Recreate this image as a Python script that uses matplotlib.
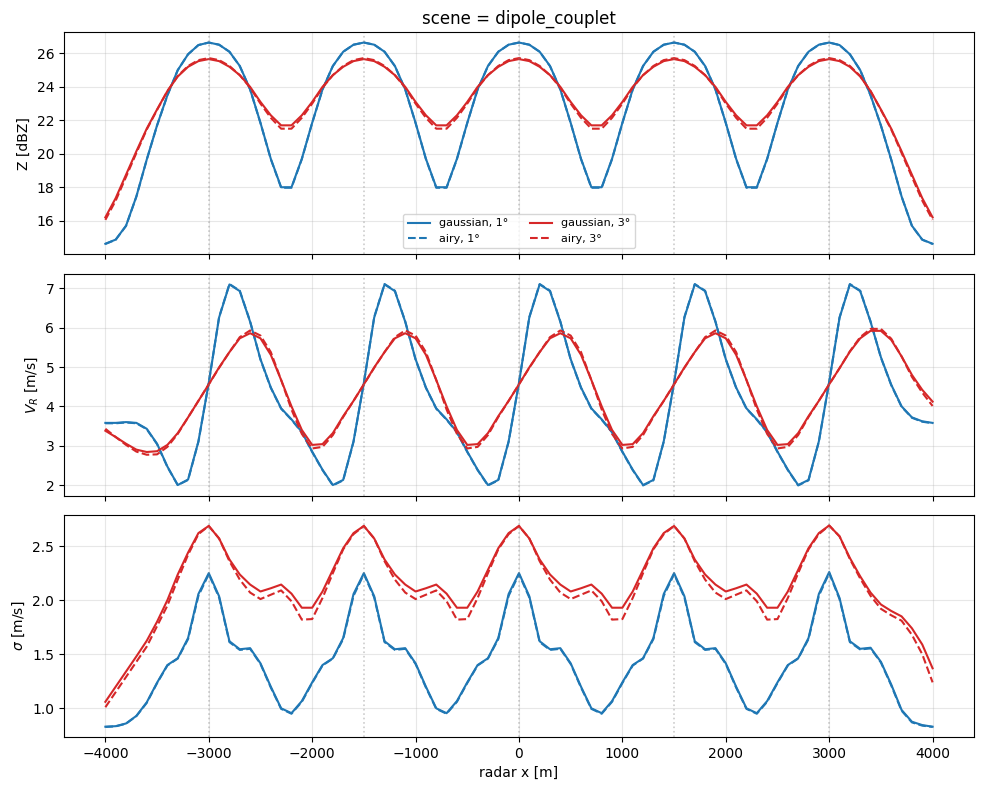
import matplotlib
matplotlib.use("Agg")
import matplotlib.pyplot as plt
import numpy as np

# radar x positions [m], 100 m spacing
x_m = np.arange(-4000, 4001, 100)
dipole_x = [-3000, -1500, 0, 1500, 3000]

# reflectivity Z [dBZ]
z_gauss_1 = [14.62, 14.87, 15.70, 17.45, 19.65, 21.70, 23.50, 25.00, 25.95, 26.50,
             26.65, 26.52, 26.10, 25.25, 23.85, 21.85, 19.70, 18.00, 18.00, 19.70, 21.85, 23.85, 25.25, 26.10, 26.52,
             26.65, 26.52, 26.10, 25.25, 23.85, 21.85, 19.70, 18.00, 18.00, 19.70, 21.85, 23.85, 25.25, 26.10, 26.52,
             26.65, 26.52, 26.10, 25.25, 23.85, 21.85, 19.70, 18.00, 18.00, 19.70, 21.85, 23.85, 25.25, 26.10, 26.52,
             26.65, 26.52, 26.10, 25.25, 23.85, 21.85, 19.70, 18.00, 18.00, 19.70, 21.85, 23.85, 25.25, 26.10, 26.52,
             26.65, 26.50, 25.95, 25.00, 23.50, 21.70, 19.65, 17.45, 15.70, 14.87, 14.62]
z_airy_1 = [14.61, 14.86, 15.69, 17.44, 19.64, 21.69, 23.49, 25.00, 25.95, 26.50,
            26.65, 26.52, 26.10, 25.24, 23.84, 21.84, 19.68, 17.97, 17.97, 19.68, 21.84, 23.84, 25.24, 26.10, 26.52,
            26.65, 26.52, 26.10, 25.24, 23.84, 21.84, 19.68, 17.97, 17.97, 19.68, 21.84, 23.84, 25.24, 26.10, 26.52,
            26.65, 26.52, 26.10, 25.24, 23.84, 21.84, 19.68, 17.97, 17.97, 19.68, 21.84, 23.84, 25.24, 26.10, 26.52,
            26.65, 26.52, 26.10, 25.24, 23.84, 21.84, 19.68, 17.97, 17.97, 19.68, 21.84, 23.84, 25.24, 26.10, 26.52,
            26.65, 26.50, 25.95, 25.00, 23.49, 21.69, 19.64, 17.44, 15.69, 14.86, 14.61]
z_gauss_3 = [16.20, 17.35, 18.75, 20.15, 21.50, 22.65, 23.75, 24.62, 25.20, 25.54,
             25.66, 25.54, 25.20, 24.70, 24.00, 23.10, 22.30, 21.70, 21.70, 22.30, 23.10, 24.00, 24.70, 25.20, 25.54,
             25.66, 25.54, 25.20, 24.70, 24.00, 23.10, 22.30, 21.70, 21.70, 22.30, 23.10, 24.00, 24.70, 25.20, 25.54,
             25.66, 25.54, 25.20, 24.70, 24.00, 23.10, 22.30, 21.70, 21.70, 22.30, 23.10, 24.00, 24.70, 25.20, 25.54,
             25.66, 25.54, 25.20, 24.70, 24.00, 23.10, 22.30, 21.70, 21.70, 22.30, 23.10, 24.00, 24.70, 25.20, 25.54,
             25.66, 25.54, 25.20, 24.62, 23.75, 22.65, 21.50, 20.15, 18.75, 17.35, 16.20]
z_airy_3 = [16.05, 17.20, 18.62, 20.05, 21.45, 22.62, 23.75, 24.65, 25.25, 25.60,
            25.72, 25.60, 25.25, 24.70, 23.95, 23.00, 22.15, 21.50, 21.50, 22.15, 23.00, 23.95, 24.70, 25.25, 25.60,
            25.72, 25.60, 25.25, 24.70, 23.95, 23.00, 22.15, 21.50, 21.50, 22.15, 23.00, 23.95, 24.70, 25.25, 25.60,
            25.72, 25.60, 25.25, 24.70, 23.95, 23.00, 22.15, 21.50, 21.50, 22.15, 23.00, 23.95, 24.70, 25.25, 25.60,
            25.72, 25.60, 25.25, 24.70, 23.95, 23.00, 22.15, 21.50, 21.50, 22.15, 23.00, 23.95, 24.70, 25.25, 25.60,
            25.72, 25.60, 25.25, 24.65, 23.75, 22.62, 21.45, 20.05, 18.62, 17.20, 16.05]

# radial velocity V_R [m/s]
vr_gauss_1 = [3.58, 3.58, 3.60, 3.58, 3.43, 3.05, 2.47, 2.00, 2.14, 3.11,
              4.60, 6.26, 7.10, 6.93, 6.15, 5.20, 4.48, 3.95, 3.67, 3.35, 2.85, 2.39, 2.00, 2.13, 3.11,
              4.60, 6.26, 7.10, 6.93, 6.15, 5.20, 4.48, 3.95, 3.67, 3.35, 2.85, 2.39, 2.00, 2.13, 3.11,
              4.60, 6.26, 7.10, 6.93, 6.15, 5.20, 4.48, 3.95, 3.67, 3.35, 2.85, 2.39, 2.00, 2.13, 3.11,
              4.60, 6.26, 7.10, 6.93, 6.15, 5.20, 4.48, 3.95, 3.67, 3.35, 2.85, 2.39, 2.00, 2.13, 3.11,
              4.62, 6.25, 7.10, 6.93, 6.15, 5.25, 4.55, 4.00, 3.72, 3.62, 3.58]
vr_airy_1 = [3.57, 3.57, 3.59, 3.57, 3.42, 3.04, 2.46, 2.00, 2.13, 3.10,
             4.60, 6.27, 7.11, 6.94, 6.16, 5.19, 4.47, 3.94, 3.66, 3.34, 2.84, 2.38, 1.99, 2.12, 3.10,
             4.60, 6.27, 7.11, 6.94, 6.16, 5.19, 4.47, 3.94, 3.66, 3.34, 2.84, 2.38, 1.99, 2.12, 3.10,
             4.60, 6.27, 7.11, 6.94, 6.16, 5.19, 4.47, 3.94, 3.66, 3.34, 2.84, 2.38, 1.99, 2.12, 3.10,
             4.60, 6.27, 7.11, 6.94, 6.16, 5.19, 4.47, 3.94, 3.66, 3.34, 2.84, 2.38, 1.99, 2.12, 3.10,
             4.62, 6.26, 7.11, 6.94, 6.16, 5.24, 4.54, 3.99, 3.71, 3.61, 3.57]
vr_gauss_3 = [3.38, 3.22, 3.05, 2.90, 2.84, 2.86, 3.02, 3.32, 3.72, 4.14,
              4.56, 4.99, 5.38, 5.73, 5.86, 5.73, 5.31, 4.67, 4.00, 3.40, 3.02, 3.04, 3.32, 3.75, 4.14,
              4.56, 4.99, 5.38, 5.73, 5.86, 5.73, 5.31, 4.67, 4.00, 3.40, 3.02, 3.04, 3.32, 3.75, 4.14,
              4.56, 4.99, 5.38, 5.73, 5.86, 5.73, 5.31, 4.67, 4.00, 3.40, 3.02, 3.04, 3.32, 3.75, 4.14,
              4.56, 4.99, 5.38, 5.73, 5.86, 5.73, 5.31, 4.67, 4.00, 3.40, 3.02, 3.04, 3.32, 3.75, 4.14,
              4.56, 4.97, 5.39, 5.73, 5.92, 5.92, 5.69, 5.27, 4.80, 4.42, 4.12]
vr_airy_3 = [3.43, 3.22, 3.02, 2.85, 2.77, 2.78, 2.97, 3.30, 3.72, 4.14,
             4.56, 4.98, 5.38, 5.76, 5.93, 5.80, 5.38, 4.67, 3.92, 3.30, 2.93, 2.97, 3.27, 3.73, 4.14,
             4.56, 4.98, 5.38, 5.76, 5.93, 5.80, 5.38, 4.67, 3.92, 3.30, 2.93, 2.97, 3.27, 3.73, 4.14,
             4.56, 4.98, 5.38, 5.76, 5.93, 5.80, 5.38, 4.67, 3.92, 3.30, 2.93, 2.97, 3.27, 3.73, 4.14,
             4.56, 4.98, 5.38, 5.76, 5.93, 5.80, 5.38, 4.67, 3.92, 3.30, 2.93, 2.97, 3.27, 3.73, 4.14,
             4.56, 4.97, 5.40, 5.76, 5.97, 5.97, 5.72, 5.27, 4.75, 4.35, 4.01]

# spectrum width sigma [m/s]
sw_gauss_1 = [0.830, 0.835, 0.860, 0.930, 1.055, 1.237, 1.400, 1.463, 1.650, 2.057,
              2.250, 2.036, 1.620, 1.546, 1.556, 1.416, 1.200, 1.000, 0.955, 1.067, 1.240, 1.400, 1.463, 1.650, 2.057,
              2.250, 2.036, 1.620, 1.546, 1.556, 1.416, 1.200, 1.000, 0.955, 1.067, 1.240, 1.400, 1.463, 1.650, 2.057,
              2.250, 2.036, 1.620, 1.546, 1.556, 1.416, 1.200, 1.000, 0.955, 1.067, 1.240, 1.400, 1.463, 1.650, 2.057,
              2.250, 2.036, 1.620, 1.546, 1.556, 1.416, 1.200, 1.000, 0.955, 1.067, 1.240, 1.400, 1.463, 1.650, 2.057,
              2.260, 2.020, 1.620, 1.550, 1.560, 1.430, 1.220, 0.985, 0.876, 0.845, 0.830]
sw_airy_1 = [0.828, 0.833, 0.858, 0.928, 1.050, 1.232, 1.396, 1.460, 1.640, 2.040,
             2.240, 2.025, 1.612, 1.540, 1.550, 1.410, 1.192, 0.995, 0.950, 1.060, 1.234, 1.396, 1.460, 1.640, 2.040,
             2.240, 2.025, 1.612, 1.540, 1.550, 1.410, 1.192, 0.995, 0.950, 1.060, 1.234, 1.396, 1.460, 1.640, 2.040,
             2.240, 2.025, 1.612, 1.540, 1.550, 1.410, 1.192, 0.995, 0.950, 1.060, 1.234, 1.396, 1.460, 1.640, 2.040,
             2.240, 2.025, 1.612, 1.540, 1.550, 1.410, 1.192, 0.995, 0.950, 1.060, 1.234, 1.396, 1.460, 1.640, 2.040,
             2.250, 2.010, 1.612, 1.544, 1.554, 1.424, 1.212, 0.978, 0.870, 0.840, 0.828]
sw_gauss_3 = [1.060, 1.200, 1.340, 1.480, 1.624, 1.800, 2.000, 2.237, 2.440, 2.620,
              2.686, 2.570, 2.376, 2.237, 2.144, 2.080, 2.110, 2.144, 2.060, 1.930, 1.930, 2.080, 2.280, 2.480, 2.620,
              2.686, 2.570, 2.376, 2.237, 2.144, 2.080, 2.110, 2.144, 2.060, 1.930, 1.930, 2.080, 2.280, 2.480, 2.620,
              2.686, 2.570, 2.376, 2.237, 2.144, 2.080, 2.110, 2.144, 2.060, 1.930, 1.930, 2.080, 2.280, 2.480, 2.620,
              2.686, 2.570, 2.376, 2.237, 2.144, 2.080, 2.110, 2.144, 2.060, 1.930, 1.930, 2.080, 2.280, 2.480, 2.620,
              2.690, 2.590, 2.390, 2.220, 2.070, 1.960, 1.900, 1.850, 1.740, 1.590, 1.370]
sw_airy_3 = [1.010, 1.150, 1.290, 1.430, 1.570, 1.760, 1.950, 2.190, 2.420, 2.610,
             2.686, 2.570, 2.360, 2.190, 2.070, 2.010, 2.050, 2.090, 1.990, 1.820, 1.825, 2.020, 2.250, 2.470, 2.610,
             2.686, 2.570, 2.360, 2.190, 2.070, 2.010, 2.050, 2.090, 1.990, 1.820, 1.825, 2.020, 2.250, 2.470, 2.610,
             2.686, 2.570, 2.360, 2.190, 2.070, 2.010, 2.050, 2.090, 1.990, 1.820, 1.825, 2.020, 2.250, 2.470, 2.610,
             2.686, 2.570, 2.360, 2.190, 2.070, 2.010, 2.050, 2.090, 1.990, 1.820, 1.825, 2.020, 2.250, 2.470, 2.610,
             2.690, 2.590, 2.380, 2.200, 2.040, 1.920, 1.860, 1.810, 1.680, 1.500, 1.240]

panels = [
    ("Z [dBZ]", z_gauss_1, z_airy_1, z_gauss_3, z_airy_3),
    ("$V_R$ [m/s]", vr_gauss_1, vr_airy_1, vr_gauss_3, vr_airy_3),
    (r"$\sigma$ [m/s]", sw_gauss_1, sw_airy_1, sw_gauss_3, sw_airy_3),
]


def main() -> None:
    fig, axes = plt.subplots(3, 1, figsize=(9.83, 7.9), dpi=100, sharex=True)

    for ax, (ylabel, g1, a1, g3, a3) in zip(axes, panels):
        ax.plot(x_m, g1, color="tab:blue", ls="-", label="gaussian, 1°")
        ax.plot(x_m, a1, color="tab:blue", ls="--", label="airy, 1°")
        ax.plot(x_m, g3, color="tab:red", ls="-", label="gaussian, 3°")
        ax.plot(x_m, a3, color="tab:red", ls="--", label="airy, 3°")
        for xd in dipole_x:
            ax.axvline(xd, color="gray", ls=":", lw=1.2, alpha=0.4)
        ax.set_ylabel(ylabel)
        ax.grid(alpha=0.3)

    axes[0].set_title("scene = dipole_couplet")
    axes[0].legend(loc="lower center", ncol=2, fontsize=8)
    axes[-1].set_xlabel("radar x [m]")

    # match the tight layout of the original figure
    fig.subplots_adjust(left=0.0651, right=0.9908, top=0.9589, bottom=0.0671, hspace=0.09)
    fig.savefig("out.png", dpi=100)
    plt.close(fig)


if __name__ == "__main__":
    main()
